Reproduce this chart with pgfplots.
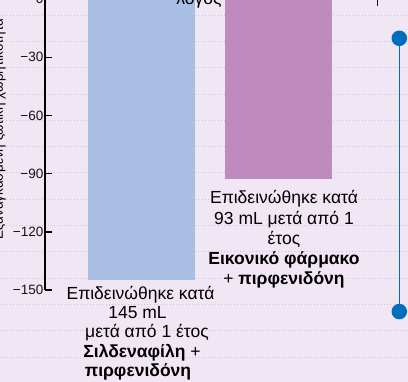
\documentclass[border=0pt]{standalone}
\usepackage{pgfplots}
\pgfplotsset{compat=1.18}
\usepackage{fontspec}
\setmainfont{Liberation Sans}
\definecolor{bg}{RGB}{241,230,243}
\definecolor{barblue}{RGB}{169,190,227}
\definecolor{barpurple}{RGB}{191,139,191}
\definecolor{gridc}{RGB}{205,195,215}
\definecolor{lineblue}{RGB}{0,110,190}
\definecolor{txt}{RGB}{20,20,20}
\newcommand{\lab}{\fontsize{17.5bp}{19bp}\selectfont}
\begin{document}
\begin{tikzpicture}
\path[use as bounding box] (0,0) rectangle (408bp,382bp);
\clip (0,0) rectangle (408bp,382bp);
\fill[bg] (0,0) rectangle (408bp,382bp);
\begin{axis}[
  at={(0,0)}, anchor=south west, scale only axis, width=408bp, height=382bp,
  xmin=0, xmax=408, ymin=-197.4, ymax=-0.46,
  axis line style={draw=none},
  xtick=\empty,
  ytick={-8.2,-21.76,-35.32,-48.88,-62.44,-76.0,-89.56,-103.12,-116.68,-130.24,-143.8,-157.36,-170.92,-184.48},
  yticklabels={},
  major tick length=0pt,
  ymajorgrids, grid style={dash pattern=on 0.8bp off 2.4bp, gridc, line width=0.8bp},
  clip=false,
  every node/.append style={text=txt},
]
\addplot[ybar, bar width=107, bar shift=0pt, fill=barblue, draw=none] coordinates {(141.5,-145)};
\addplot[ybar, bar width=107, bar shift=0pt, fill=barpurple, draw=none] coordinates {(278.5,-93)};
\addplot[lineblue, line width=1.5bp, mark=*, mark size=7bp, mark options={fill=lineblue, draw=none}] coordinates {(399.3,-20.2) (399.3,-161.1)};
\node[rotate=90, anchor=base, font=\fontsize{13.5bp}{15bp}\selectfont] at (axis cs:2.8,-66.96) {Εξαναγκασμένη ζωτική χωρητικότητα};
\node[anchor=base, font=\lab] at (axis cs:199,-2.78) {λόγος};
\draw[txt, line width=1bp] (axis cs:377.7,-0.46) -- (axis cs:377.7,-3.56);
\node[anchor=base, font=\lab] at (axis cs:140.5,-154.85) {Επιδεινώθηκε κατά};
\node[anchor=base, font=\lab] at (axis cs:137.5,-164.74) {145 mL};
\node[anchor=base, font=\lab] at (axis cs:147,-174.64) {μετά από 1 έτος};
\node[anchor=base, font=\lab] at (axis cs:142,-184.54) {\textbf{Σιλδεναφίλη} +};
\node[anchor=base, font=\lab] at (axis cs:138,-194.43) {\textbf{πιρφενιδόνη}};
\node[anchor=base, font=\lab] at (axis cs:284,-105.62) {Επιδεινώθηκε κατά};
\node[anchor=base, font=\lab] at (axis cs:284,-116.03) {93 mL μετά από 1};
\node[anchor=base, font=\lab] at (axis cs:284,-126.44) {έτος};
\node[anchor=base, font=\lab] at (axis cs:284,-136.86) {\textbf{Εικονικό φάρμακο}};
\node[anchor=base, font=\lab] at (axis cs:284,-147.27) {+ \textbf{πιρφενιδόνη}};
\end{axis}
\begin{axis}[
  at={(45bp,91.9bp)}, anchor=south west, scale only axis, width=20bp, height=291bp,
  xmin=0, xmax=1, ymin=-150, ymax=0,
  axis y line*=left, axis x line=none,
  ytick={-150,-120,-90,-60,-30,0},
  yticklabels={−150,−120,−90,−60,−30,0},
  tick align=inside, major tick length=7bp,
  tick style={line width=1.5bp, black},
  axis line style={line width=1.8bp, black},
  yticklabel style={font=\fontsize{13.5bp}{15bp}\selectfont, text=txt, inner sep=0pt, xshift=-1.5bp},
]
\end{axis}
\end{tikzpicture}
\end{document}
